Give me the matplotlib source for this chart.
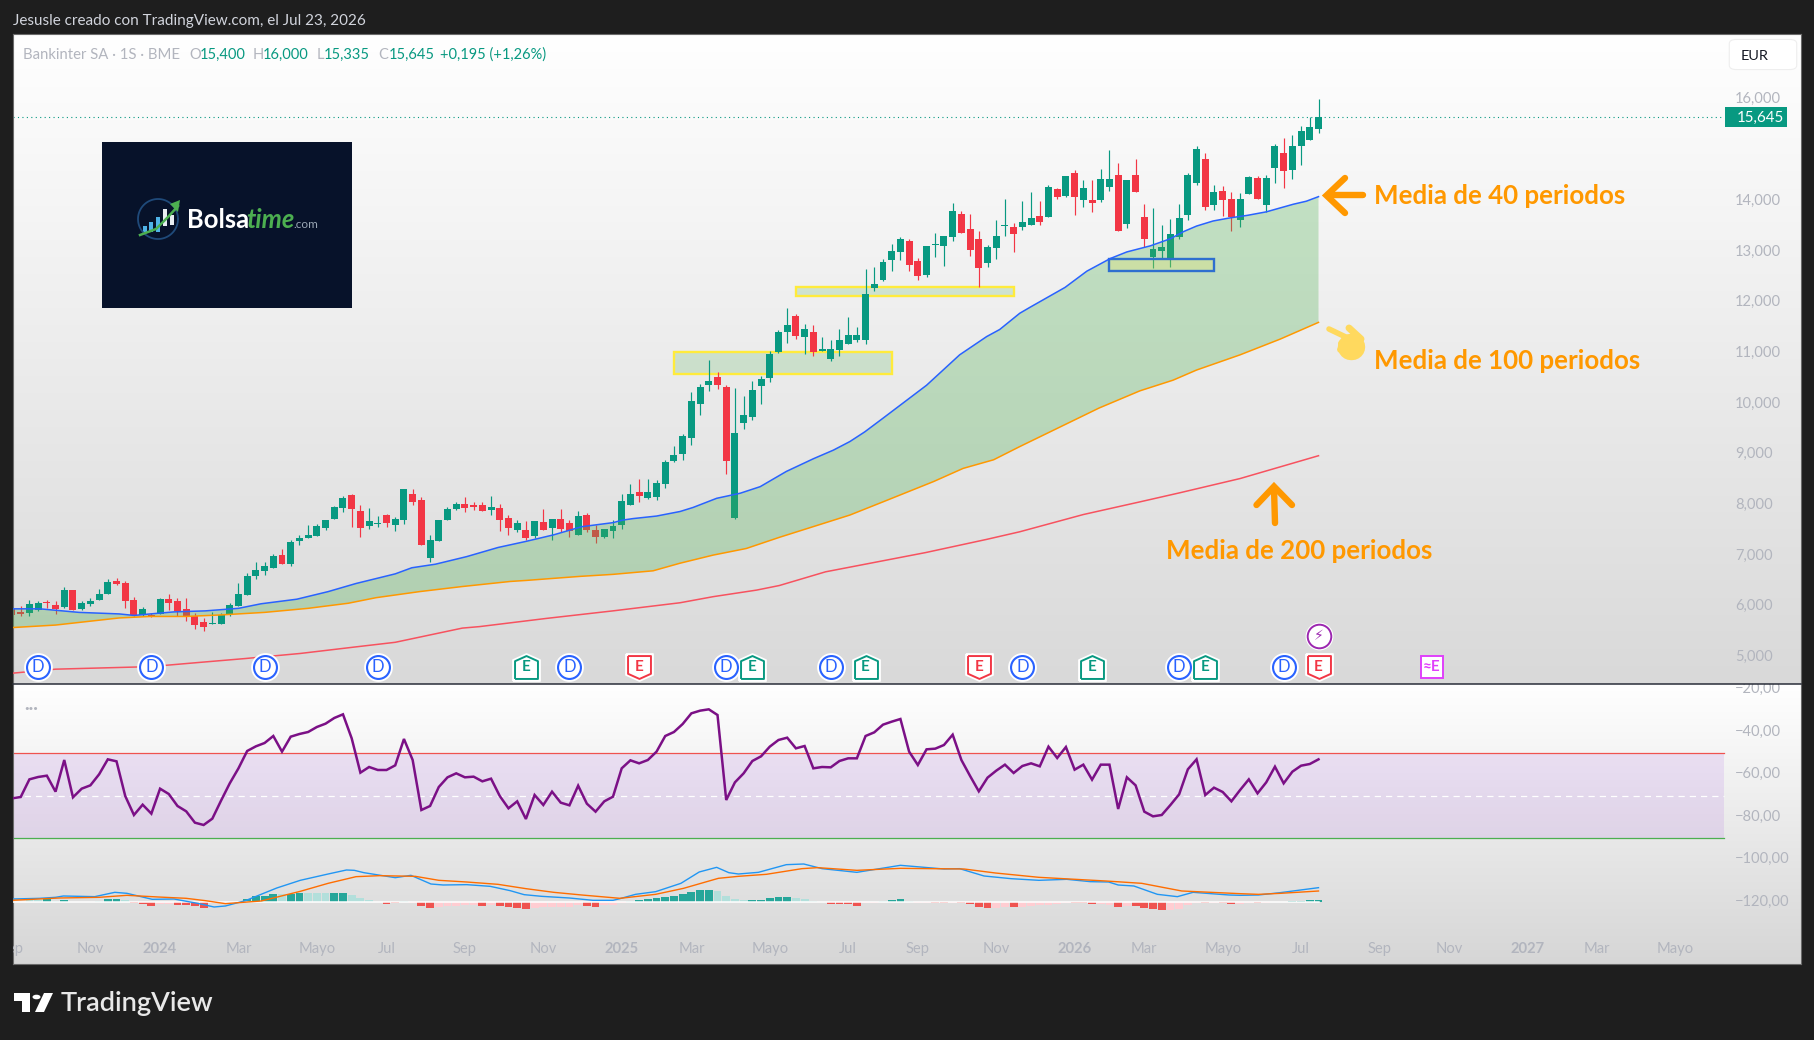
import numpy as np
import matplotlib
matplotlib.use("Agg")
import matplotlib.pyplot as plt
from matplotlib.colors import LinearSegmentedColormap
from matplotlib.lines import Line2D
from matplotlib.patches import Rectangle, Circle, Polygon, FancyBboxPatch
from matplotlib.path import Path
from matplotlib.transforms import blended_transform_factory, ScaledTranslation

plt.rcParams['font.family'] = ['Lato', 'DejaVu Sans']

# ---------- data (weekly bars, first bar is cut by the left edge) ----------
opens = [5.91,5.86,5.84,5.90,6.06,6.00,5.96,6.29,5.91,6.02,6.09,6.21,6.47,6.43,6.09,5.80,5.80,5.82,6.11,6.08,
5.92,5.78,5.66,5.63,5.62,5.82,5.98,6.19,6.57,6.67,6.73,6.98,6.81,7.26,7.32,7.36,7.52,7.69,7.91,8.17,
7.85,7.55,7.59,7.77,7.57,7.67,8.19,8.07,6.92,7.26,7.67,7.89,7.99,7.97,7.97,7.86,7.91,7.71,7.48,7.48,
7.36,7.63,7.51,7.69,7.61,7.38,7.77,7.48,7.34,7.46,7.57,7.97,8.22,8.11,8.13,8.38,8.84,8.97,9.29,9.96,
10.33,10.49,10.30,7.71,9.59,9.70,10.32,10.47,10.99,11.38,11.70,11.28,11.38,11.01,10.85,11.03,11.14,11.22,11.22,12.25,
12.41,12.80,12.96,13.18,12.78,12.50,13.10,13.08,13.25,13.71,13.41,13.21,12.74,13.04,13.47,13.45,13.45,13.49,13.67,13.65,
14.20,14.06,14.52,13.98,13.98,13.98,14.24,14.48,13.51,14.48,13.65,12.86,12.98,12.83,13.25,13.69,14.32,14.79,13.89,14.16,
14.00,13.59,14.10,14.42,13.89,14.62,14.91,14.58,15.05,15.17]
highs = [5.92,5.98,6.09,6.08,6.09,6.08,6.35,6.30,6.08,6.13,6.31,6.51,6.53,6.47,6.15,5.96,5.84,6.13,6.21,6.13,
6.13,5.84,5.74,5.86,5.84,6.04,6.43,6.63,6.84,6.84,7.00,7.10,7.28,7.38,7.57,7.59,7.68,7.95,8.15,8.19,
7.97,7.91,7.75,7.79,7.73,8.29,8.28,8.13,7.38,7.68,7.93,8.03,8.13,8.03,8.03,8.15,7.99,7.77,7.67,7.65,
7.66,7.89,7.70,7.89,7.67,7.85,7.81,7.57,7.50,7.67,8.19,8.38,8.48,8.48,8.46,8.86,9.13,9.37,10.20,10.35,
10.83,10.59,10.33,10.28,10.12,10.41,10.51,11.01,11.42,11.85,11.74,11.54,11.52,11.28,11.22,11.44,11.68,11.48,12.62,12.66,
12.82,13.12,13.25,13.21,12.84,13.08,13.33,13.28,13.93,13.77,13.71,13.37,13.10,13.59,14.00,13.53,13.96,14.14,13.96,14.28,
14.22,14.46,14.58,14.38,14.38,14.60,14.97,14.71,14.38,14.79,13.91,13.83,13.49,13.61,13.91,14.52,15.05,14.91,14.28,14.26,
14.14,14.12,14.46,14.46,14.48,15.09,15.21,15.27,15.44,15.62]
lows = [5.79,5.78,5.77,5.88,5.93,5.82,5.94,5.89,5.90,5.98,6.09,6.21,6.39,5.94,5.78,5.77,5.76,5.81,5.90,5.78,
5.68,5.52,5.48,5.62,5.62,5.78,5.97,6.19,6.51,6.59,6.72,6.80,6.77,7.18,7.31,7.35,7.48,7.69,7.83,7.53,
7.34,7.50,7.53,7.53,7.46,7.59,7.97,7.17,6.84,7.25,7.67,7.87,7.83,7.87,7.85,7.77,7.46,7.38,7.44,7.28,
7.32,7.47,7.28,7.44,7.34,7.37,7.44,7.22,7.32,7.32,7.49,7.96,8.03,8.09,8.07,8.30,8.82,8.86,9.15,9.74,
10.22,10.26,8.58,7.69,9.47,9.64,9.96,10.39,10.97,11.16,11.24,10.95,10.91,11.00,10.81,10.91,11.14,11.18,11.14,12.19,
12.39,12.58,12.80,12.58,12.41,12.47,12.86,12.68,13.18,13.33,12.88,12.27,12.66,12.82,13.27,12.96,13.39,13.49,13.49,13.64,
14.00,14.04,13.69,13.85,13.75,13.94,14.16,13.37,13.43,14.14,13.06,12.64,12.84,12.66,13.22,13.59,14.28,13.79,13.79,13.67,
13.37,13.45,14.10,14.00,13.75,14.32,14.22,14.40,14.68,15.16]
closes = [5.80,5.82,6.02,6.04,6.04,5.91,6.29,5.90,6.04,6.08,6.21,6.45,6.41,6.08,5.80,5.92,5.78,6.11,6.04,5.88,
5.78,5.60,5.56,5.64,5.80,6.00,6.21,6.57,6.69,6.77,6.96,6.81,7.24,7.32,7.38,7.55,7.67,7.93,8.11,7.89,
7.52,7.65,7.61,7.61,7.69,8.28,8.03,7.18,7.28,7.67,7.89,7.99,7.91,7.93,7.85,7.93,7.67,7.51,7.61,7.32,
7.65,7.48,7.69,7.49,7.46,7.75,7.48,7.34,7.49,7.55,8.05,8.19,8.15,8.22,8.40,8.82,8.95,9.33,10.02,10.30,
10.41,10.33,8.84,9.39,9.74,10.24,10.45,10.95,11.38,11.52,11.30,11.44,10.99,11.04,11.04,11.22,11.32,11.32,12.13,12.33,
12.76,12.98,13.21,12.70,12.49,13.08,13.12,13.27,13.77,13.33,13.00,12.64,13.06,13.27,13.49,13.31,13.55,13.63,13.55,14.24,
14.04,14.46,14.04,14.22,13.93,14.40,14.40,13.37,14.38,14.14,13.22,13.02,13.06,13.31,13.63,14.48,14.99,13.85,14.14,13.98,
13.65,14.00,14.44,14.00,14.42,15.05,14.56,15.05,15.35,15.42]
READ_OFFSET = 0.024  # values above were read against the printed axis labels, which sit just above their true level
last_bar = (15.400, 16.000, 15.335, 15.645)

ma40_bar = [-1,2.2,6.7,11.3,13,14.9,17.6,21.2,25,27.6,31.7,35.3,38.5,43,44.9,47.6,51.2,54.8,58,61.2,64.4,68,69.1,70.3,73,75.7,77.2,79.9,82.6,84.9,87.9,91,93.3,95.2,96.9,99,101,104,107.8,110.9,112.4,114.7,115.9,119.9,122.4,125.1,127,129.7,132,133.5,135,136.9,138.8,140.8,143,146.1,147.6,149]
ma40 = [5.92,5.92,5.85,5.82,5.79,5.82,5.86,5.88,5.93,6.02,6.11,6.26,6.42,6.61,6.73,6.80,6.95,7.13,7.25,7.38,7.54,7.62,7.67,7.70,7.75,7.84,7.92,8.10,8.20,8.33,8.63,8.88,9.05,9.22,9.41,9.68,9.94,10.33,10.93,11.29,11.43,11.75,11.87,12.26,12.58,12.83,12.96,13.08,13.22,13.36,13.47,13.57,13.63,13.68,13.75,13.90,13.96,14.05]
ma100_bar = [-1,4,11.3,14.9,19,23,28,33,37.6,40.8,45.8,50.7,56.2,58,64.2,68,72.6,75.7,79.5,83.3,87.1,95.2,99,104.8,108.2,111.7,114.7,123.8,128.5,132.3,135,140,144.6,149]
ma100 = [5.55,5.60,5.74,5.77,5.77,5.80,5.85,5.93,6.03,6.14,6.26,6.36,6.46,6.48,6.56,6.60,6.67,6.82,6.98,7.11,7.33,7.77,8.03,8.43,8.69,8.86,9.12,9.88,10.22,10.43,10.63,10.93,11.24,11.57]
ma200_bar = [-1,4,14.9,20.3,25.8,32.1,38.5,43,50.7,52.7,60.3,68,75.7,79.5,84.5,87.1,92.4,103.9,110.9,114.7,122,128.5,133.1,140,143.8,149]
ma200 = [4.65,4.73,4.78,4.86,4.94,5.04,5.17,5.26,5.54,5.57,5.73,5.88,6.04,6.16,6.29,6.38,6.65,7.03,7.29,7.44,7.78,8.03,8.21,8.49,8.68,8.94]

rsi = [-71.83,-71.2,-62.89,-61.79,-61.16,-68.69,-53.79,-71.35,-67.28,-65.71,-60.53,-53.47,-54.41,-70.73,-79.67,-74.81,-79.04,-67.28,-69.79,-75.43,
-77.94,-83.28,-84.37,-81.39,-72.92,-64.77,-57.71,-49.55,-47.36,-45.79,-42.49,-49.86,-42.81,-41.55,-40.61,-38.26,-36.69,-34.02,-32.3,-43.59,
-59.75,-57.08,-58.49,-58.49,-56.3,-43.9,-53.79,-77.32,-75.43,-66.49,-61.94,-60.06,-61.94,-61.63,-63.83,-62.57,-70.73,-76.53,-73.24,-81.55,
-70.26,-74.96,-68.69,-73.86,-75.12,-65.87,-74.34,-78.1,-73.24,-71.04,
-57.71,-53.94,-55.36,-53.79,-49.86,-42.49,-40.61,-36.85,-31.83,-30.57,-29.94,-32.61,-72.61,-64.3,-60.06,-54.26,-52.06,-47.51,-44.37,-43.28,
-48.3,-47.2,-57.71,-57.08,-57.24,-54.26,-53.0,-53.0,-42.49,-40.77,-37.16,-35.75,-34.49,-49.86,-56.14,-48.77,-48.45,-46.73,-41.87,-53.79,
-61.32,-68.53,-62.1,-58.81,-55.98,-59.9,-56.61,-55.36,-56.77,-47.51,-52.85,-47.67,-58.34,-55.98,-63.04,-55.98,-55.98,-76.84,-61.94,-65.71,
-78.1,-80.3,-79.67,-74.96,-69.94,-58.18,-53.47,-70.26,-66.81,-68.84,-73.24,-67.9,
-62.89,-69.48,-64.3,-56.93,-64.77,-59.28,-56.46,-55.67,-53.48]

macd_bar = [-1,2.2,4,4.9,8.5,10.8,12.2,15.1,17.6,20.3,22.2,23.5,25.8,29.4,32.1,35.3,37.4,38.3,39.4,43,44.8,47.1,48.5,51.2,53.9,56.2,57.8,59.8,63,65.7,68,
68.8,70.6,72.9,75.8,77.9,79.9,81.3,82.4,84.7,87.9,89.9,92,96,101,106,107.8,110.6,113.7,116.9,120.1,122.8,124.9,126,127.8,130.5,132.8,134.6,138.7,140,142.1,144.6,149]
macd = [-119.2,-118.88,-118.41,-117.79,-118.1,-116.06,-116.53,-119.35,-119.2,-121.24,-122.96,-122.49,-119.98,-114.02,-110.41,-107.43,-105.55,-105.71,-106.81,-109.16,-108.06,-112.14,-112.61,-112.45,-113.24,-115.28,-117.16,-117.94,-118.73,-119.82,-119.82,
-119.04,-117.0,-115.75,-111.82,-106.49,-104.3,-106.81,-107.43,-106.65,-103.04,-102.73,-104.92,-106.65,-103.35,-105.08,-104.92,-108.37,-109.63,-110.41,-109.94,-111.04,-111.2,-112.61,-113.08,-117.0,-118.1,-116.06,-117.31,-117.47,-117.32,-116.22,-113.87]
signal_bar = [-1,4.4,9,12.2,15.8,19,21.2,23.5,27.6,32.1,35.3,38.5,41.2,45.3,48,51.2,54.8,58,61.2,64.4,68.8,72.9,76.1,80.1,82.4,85.6,89.7,91.5,96,101,108.3,111.9,116.9,124.6,128.7,133.3,140,142.1,144.6,149]
signal = [-119.82,-118.73,-118.41,-117.47,-118.26,-118.88,-119.98,-121.39,-120.14,-115.59,-111.82,-108.69,-108.22,-108.53,-110.41,-111.2,-112.3,-114.33,-116.06,-117.31,-118.88,-117.0,-114.18,-109.47,-108.53,-107.59,-104.92,-104.45,-105.71,-104.77,-105.08,-106.96,-109.0,-110.73,-111.82,-115.43,-116.69,-117.01,-116.54,-115.44]
MACD_ZERO = -120.7
hist = [.16,1.1,1.1,1.41,.47,1.1,.31,.31,.31,.78,1.41,1.41,.94,-.47,-.94,-1.73,-.94,-.94,-1.1,-1.41,
-1.88,-2.51,-.47,-.16,.16,.16,1.57,2.82,3.14,3.76,3.92,4.08,4.24,4.39,4.39,4.39,4.39,4.39,3.45,1.88,
1.26,.31,-.63,-.47,.47,-.31,-1.73,-2.67,-2.35,-1.88,-1.57,-1.26,-1.26,-1.73,-1.41,-1.73,-2.2,-2.67,-3.14,-2.67,
-2.35,-2.2,-2.04,-2.04,-1.26,-1.73,-2.04,-1.41,-1.41,-.16,.78,1.26,1.73,2.2,2.67,3.14,3.92,4.71,5.65,5.8,
5.33,2.82,1.41,1.1,.94,1.26,1.88,2.67,2.67,2.2,1.57,.78,.31,-.63,-.94,-.94,-1.57,-.16,-.16,.47,
.94,1.41,.63,-.31,-.47,-.47,-.47,-.16,-.47,-.94,-2.2,-2.67,-2.51,-2.2,-2.35,-2.2,-1.73,-1.41,-1.1,-.78,
-.16,-.47,-.47,-.94,-.94,-1.26,-2.2,-1.57,-1.73,-2.51,-3.14,-3.61,-3.45,-3.14,-1.26,-.47,-.47,-.16,-.47,-.94,
-.63,-.47,-.47,-.31,.31,.31,.78,.78,1.26,1.26]
hist_shade = ("WWWSWSWWWW" "SSWSSSWWSS" "SSWWWWSSSS" "WSSWWWSSWW" "WWSSWWSSWW" "WWWSWSSSSW" "WWWWWSSWWW"
              "WSSSSSSSSS" "WWWWSSSSSW" "WWWSSSSWWW" "SSWWWSSWSS" "SSWWSWWWWW" "WSSSWWSWSS" "SSWWWWSWSS" "WWSWWWSSSS")

price_ticks = [16, 14, 13, 12, 11, 10, 9, 8, 7, 6, 5]
price_labels = ['16,000', '14,000', '13,000', '12,000', '11,000', '10,000', '9,000', '8,000', '7,000', '6,000', '5,000']
lower_ticks = [-20, -40, -60, -80, -100, -120]
lower_labels = ['\u221220,00', '\u221240,00', '\u221260,00', '\u221280,00', '\u2212100,00', '\u2212120,00']
month_bars = [-1, 8, 16, 25, 34, 42, 51, 60, 69, 77, 86, 95, 103, 112, 121, 129, 138, 147, 156, 164, 173, 181, 190]
month_labels = ['Sep', 'Nov', '2024', 'Mar', 'Mayo', 'Jul', 'Sep', 'Nov', '2025', 'Mar', 'Mayo', 'Jul', 'Sep', 'Nov', '2026', 'Mar', 'Mayo', 'Jul', 'Sep', 'Nov', '2027', 'Mar', 'Mayo']
dividend_bars = [2, 15, 28, 41, 63, 81, 93, 115, 133, 145]
earn_up_bars = [58, 84, 97, 123, 136]
earn_down_bars = [71, 110, 149]
earn_next_bar = 162
news_bar = 149
zones = [(75, 100, 10.55, 10.99), (89, 114, 12.09, 12.27)]
blue_zone = (125, 137, 12.58, 12.82)

# ---------- layout ----------
W, H = 1814, 1040
L, R, T, SEP, B = 13, 1801, 34, 684, 964
BAR_PX = 8.71
BAND_END = 149 + (1724 - 1318.5) / BAR_PX
GREEN, RED = '#089981', '#F23645'
AXIS_TXT = '#b2b5be'
ORANGE = '#FF9800'

fig = plt.figure(figsize=(W / 100, H / 100), dpi=100, facecolor='#1e1e1e')
def fx(x): return x / W
def fy(y): return 1 - y / H

ax2 = fig.add_axes([fx(L), fy(B), (R - L) / W, (B - SEP) / H], zorder=1)
ax = fig.add_axes([fx(L), fy(SEP), (R - L) / W, (SEP - T) / H], zorder=2)

xlim = (149 - (1318.5 - L) / BAR_PX, 149 + (R - 1318.5) / BAR_PX)
ylim_main = (16 - (SEP - 99) / 50.7, 16 - (T - 99) / 50.7)
ylim_low = (-40 - (B - 730.7) / 2.125, -40 - (SEP - 730.7) / 2.125)

cm1 = LinearSegmentedColormap.from_list('a', ['#ffffff', '#d9d9d9'])
cm2 = LinearSegmentedColormap.from_list('b', ['#ffffff', '#d6d6d6'])
grad = np.linspace(0, 1, 256).reshape(-1, 1)
ax.imshow(grad, extent=[0, 1, 0, 1], transform=ax.transAxes, aspect='auto', cmap=cm1, origin='upper', zorder=0)
ax2.imshow(grad, extent=[0, 1, 0, 1], transform=ax2.transAxes, aspect='auto', cmap=cm2, origin='upper', zorder=0)

# ---------- candles ----------
o = np.array(opens) + READ_OFFSET
h = np.array(highs) + READ_OFFSET
l = np.array(lows) + READ_OFFSET
c = np.array(closes) + READ_OFFSET
o = np.append(o, last_bar[0]); h = np.append(h, last_bar[1]); l = np.append(l, last_bar[2]); c = np.append(c, last_bar[3])
xb = np.arange(-1, len(o) - 1)
col = [GREEN if cc >= oo else RED for oo, cc in zip(o, c)]
ax.vlines(xb, l, h, colors=col, linewidth=0.85, zorder=2)
ax.bar(xb, np.abs(c - o), bottom=np.minimum(o, c), width=0.8, color=col, linewidth=0, zorder=2.1)

# zones
for x0, x1, y0, y1 in zones:
    ax.add_patch(Rectangle((x0, y0 + READ_OFFSET), x1 - x0, y1 - y0, facecolor=(0.30, 0.69, 0.31, 0.2),
                           edgecolor='#FFEB3B', linewidth=1.7, zorder=1.5))
x0, x1, y0, y1 = blue_zone
ax.add_patch(Rectangle((x0, y0 + READ_OFFSET), x1 - x0, y1 - y0, facecolor=(1.0, 0.92, 0.23, 0.2),
                       edgecolor='#2E6FCF', linewidth=1.7, zorder=3.5))

# moving averages + fill
x40, y40 = np.array(ma40_bar), np.array(ma40) + READ_OFFSET
x100, y100 = np.array(ma100_bar), np.array(ma100) + READ_OFFSET
x200, y200 = np.array(ma200_bar), np.array(ma200) + READ_OFFSET
ax.fill(np.r_[x40, x100[::-1]], np.r_[y40, y100[::-1]], facecolor=(0.30, 0.69, 0.31, 0.3), edgecolor='none', zorder=3)
ax.plot(x40, y40, color='#2962FF', lw=1.1, zorder=4)
ax.plot(x100, y100, color=ORANGE, lw=1.1, zorder=4)
ax.plot(x200, y200, color='#F7525F', lw=1.1, zorder=4)

# last price line
ax.plot([xlim[0], 149 + (1722 - 1318.5) / BAR_PX], [last_bar[3]] * 2, color=GREEN, lw=0.8,
        dashes=(1, 3), zorder=1.8)

# event markers
ev_y, news_y = 16 - (667 - 99) / 50.7, 16 - (636 - 99) / 50.7
for xv in dividend_bars:
    ax.plot([xv], [ev_y], marker='o', ms=19.5, mfc='white', mec='white', mew=1.2, zorder=6)
    ax.plot([xv], [ev_y], marker='o', ms=16.5, mfc='white', mec='#2962FF', mew=1.5, zorder=6.1)
    ax.text(xv, ev_y, 'D', color='#2962FF', fontsize=12, ha='center', va='center', zorder=6.2)
up = Path([(-1, -1), (1, -1), (1, .55), (0, 1), (-1, .55), (-1, -1)])
down = Path([(-1, 1), (1, 1), (1, -.55), (0, -1), (-1, -.55), (-1, 1)])
for xv in earn_up_bars:
    ax.plot([xv], [ev_y], marker=up, ms=19.5, mfc='white', mec='white', mew=1.2, zorder=6)
    ax.plot([xv], [ev_y], marker=up, ms=16.5, mfc='white', mec=GREEN, mew=1.4, zorder=6.1)
    ax.text(xv, ev_y, 'E', color=GREEN, fontsize=11, fontweight='bold', ha='center', va='center', zorder=6.2)
for xv in earn_down_bars:
    ax.plot([xv], [ev_y], marker=down, ms=19.5, mfc='white', mec='white', mew=1.2, zorder=6)
    ax.plot([xv], [ev_y], marker=down, ms=16.5, mfc='white', mec=RED, mew=1.4, zorder=6.1)
    ax.text(xv, ev_y, 'E', color=RED, fontsize=11, fontweight='bold', ha='center', va='center', zorder=6.2)
ax.plot([earn_next_bar], [ev_y], marker='s', ms=16, mfc='white', mec='#E040FB', mew=1.4, zorder=6)
ax.text(earn_next_bar, ev_y, '\u2248E', color='#E040FB', fontsize=11, fontweight='bold', ha='center', va='center', zorder=6.2)
ax.plot([news_bar], [news_y], marker='o', ms=19, mfc='white', mec='white', mew=1, zorder=6)
ax.plot([news_bar], [news_y], marker='o', ms=17, mfc='white', mec='#9C27B0', mew=1.4, zorder=6.1)
ax.text(news_bar, news_y, '\u26A1', color='#9C27B0', fontsize=10, family='DejaVu Sans', ha='center', va='center', zorder=6.2)

ax.set_xlim(*xlim); ax.set_ylim(*ylim_main)
ax.set_xticks([])
ax.yaxis.tick_right()
ax.set_yticks(price_ticks)
ax.set_yticklabels(price_labels)
ax.tick_params(axis='y', length=0, pad=-47.5, labelcolor=AXIS_TXT, labelsize=10.6)

# ---------- lower pane ----------
band_top, band_mid, band_bot = -50.64, -70.64, -90.64
ax2.fill_between([xlim[0], BAND_END], band_bot, band_top, color='#8E24E0', alpha=0.105, linewidth=0, zorder=1)
ax2.plot([xlim[0], BAND_END], [band_top] * 2, color='#EF5350', lw=0.9, zorder=2)
ax2.plot([xlim[0], BAND_END], [band_bot] * 2, color='#4CAF50', lw=0.9, zorder=2)
ax2.plot([xlim[0], BAND_END], [band_mid] * 2, color='white', lw=0.9, dashes=(5, 4), zorder=2)
xr = np.arange(-1, len(rsi) - 1)
ax2.plot(xr, rsi, color='#7B1086', lw=1.8, solid_joinstyle='miter', zorder=5)

xh = np.arange(len(hist))
hv = np.array(hist)
hcol = []
for v, s in zip(hv, hist_shade):
    if v >= 0:
        hcol.append('#26A69A' if s == 'S' else '#B2DFDB')
    else:
        hcol.append('#EF5350' if s == 'S' else '#FFCDD2')
ax2.bar(xh, hv, bottom=MACD_ZERO, width=0.9, color=hcol, linewidth=0, zorder=2.5)
ax2.plot([-1, 149], [MACD_ZERO] * 2, color='white', lw=1.1, zorder=2.6)
ax2.plot(macd_bar, macd, color='#2196F3', lw=1.0, zorder=3)
ax2.plot(signal_bar, signal, color='#FF6D00', lw=1.0, zorder=3.1)

ax2.set_xlim(*xlim); ax2.set_ylim(*ylim_low)
ax2.set_xticks([])
ax2.yaxis.tick_right()
ax2.set_yticks(lower_ticks)
ax2.set_yticklabels(lower_labels)
ax2.tick_params(axis='y', length=0, pad=-47.5, labelcolor=AXIS_TXT, labelsize=10.6)

# printed scale labels sit slightly above their true value
for a, shift_px in ((ax, 1.2), (ax2, 0.6)):
    for lbl in a.get_yticklabels():
        lbl.set_transform(lbl.get_transform() + ScaledTranslation(0, shift_px / 100, fig.dpi_scale_trans))

tr = blended_transform_factory(ax2.transData, ax2.transAxes)
label_y = (B - 949) / (B - SEP)
for xv, t in zip(month_bars, month_labels):
    ax2.text(xv, label_y, t, transform=tr, ha='center', va='center', color=AXIS_TXT, fontsize=10.6,
             fontweight='bold' if t.isdigit() else 'normal', clip_on=True, zorder=7)

for a in (ax, ax2):
    for s in a.spines.values():
        s.set_color('#6a6a6a'); s.set_linewidth(0.8)
ax.spines['bottom'].set_color('#2a2e39'); ax.spines['bottom'].set_linewidth(1.1)
ax2.spines['top'].set_visible(False)

# ---------- figure-level items (pixel placed) ----------
def ftext(x, y, s, **kw):
    kw.setdefault('zorder', 10)
    kw.setdefault('va', 'baseline')
    return fig.text(fx(x), fy(y), s, **kw)
def fline(pts, color, lw, **kw):
    fig.add_artist(Line2D([fx(p[0]) for p in pts], [fy(p[1]) for p in pts], color=color, lw=lw,
                          transform=fig.transFigure, zorder=10, **kw))
def frect(x0, y0, x1, y1, **kw):
    fig.add_artist(Rectangle((fx(x0), fy(y1)), (x1 - x0) / W, (y1 - y0) / H, transform=fig.transFigure, zorder=9, **kw))
def fpoly(pts, **kw):
    fig.add_artist(Polygon([(fx(a), fy(b)) for a, b in pts], closed=True, transform=fig.transFigure, zorder=10, **kw))

ftext(13, 25, 'Jesusle creado con TradingView.com, el Jul 23, 2026', color='#d1d4dc', fontsize=11)

LEG = 10.5
ftext(23.3, 59, 'Bankinter SA \u00b7 1S \u00b7 BME', color=AXIS_TXT, fontsize=10.7)
for lx, lab, vx, val in [(189, 'O', 200, '15,400'), (252.3, 'H', 263, '16,000'), (316.7, 'L', 324.2, '15,335'), (378.4, 'C', 388.3, '15,645')]:
    ftext(lx, 59, lab, color=AXIS_TXT, fontsize=LEG)
    ftext(vx, 59, val, color=GREEN, fontsize=LEG)
ftext(440.5, 59, '+0,195 (+1,26%)', color=GREEN, fontsize=LEG)

# EUR box
fig.add_artist(FancyBboxPatch((fx(1732), fy(68)), (1794 - 1732) / W, (68 - 41) / H, boxstyle='round,pad=0.0015,rounding_size=0.004',
                              transform=fig.transFigure, facecolor='white', edgecolor='#eeeeee', lw=0.8, zorder=9))
ftext(1740.5, 60, 'EUR', color='#131722', fontsize=10.4)

# price tag
frect(1725, 107, 1787, 127, facecolor=GREEN, edgecolor='none')
ftext(1736.4, 122, '15,645', color='white', fontsize=10.9)

# annotations
for s, x, y in [('Media de 40 periodos', 1374.3, 203.7), ('Media de 100 periodos', 1374.3, 368.7), ('Media de 200 periodos', 1165.7, 559.3)]:
    ftext(x, y, s, color=ORANGE, fontsize=18.6, fontweight='bold')
lw_arrow = 4.6
fline([(1363.3, 195), (1328, 195)], ORANGE, lw_arrow, solid_capstyle='round')
fline([(1345, 178), (1326.5, 195.5), (1345, 213)], ORANGE, lw_arrow, solid_capstyle='round', solid_joinstyle='miter')
fline([(1275, 523), (1274, 488)], ORANGE, lw_arrow, solid_capstyle='round')
fline([(1256.5, 505), (1274, 486.5), (1292, 505)], ORANGE, lw_arrow, solid_capstyle='round', solid_joinstyle='miter')
# pointing hand
HAND = '#FFD95E'
fline([(1329, 329), (1352, 340)], HAND, 4.0, solid_capstyle='round')
fline([(1349, 328), (1361, 339)], HAND, 5.0, solid_capstyle='round')
fline([(1351, 347), (1352, 347)], HAND, 19, solid_capstyle='round')
fline([(1341, 343), (1342, 343)], HAND, 5.0, solid_capstyle='round')
fline([(1340, 349), (1341, 349)], HAND, 5.0, solid_capstyle='round')

# logo
frect(102, 142, 352, 307.7, facecolor='#07122A', edgecolor='none')
th = np.linspace(0, 2 * np.pi, 80)
fline([(158 + 20 * np.cos(t), 219 + 20 * np.sin(t)) for t in th], '#1F4A7A', 1.3)
for bx, by, bh, cc in [(143, 229, 6, '#4FB3E8'), (149, 225, 10, '#4FB3E8'), (156, 220, 15, '#4FB3E8'), (163, 212, 17, '#E8EEF2'), (170, 218, 10, '#E8EEF2')]:
    frect(bx, by - 3, bx + 4, by + bh - 3, facecolor=cc, edgecolor='none')
fline([(140, 235), (156, 229), (168, 217), (178, 206)], '#4CAF50', 1.8)
fpoly([(180, 200), (170, 204), (178, 212)], facecolor='#4CAF50', edgecolor='none')
ftext(186.7, 228.3, 'Bolsa', color='white', fontsize=18.4, fontweight='bold')
ftext(246, 228.3, 'time', color='#4CAF50', fontsize=18.4, fontweight='bold', fontstyle='italic')
ftext(293.5, 228.3, '.com', color='#9aa7b5', fontsize=8.5)

# ... mark
ftext(31, 708.5, '\u00b7\u00b7\u00b7', color=AXIS_TXT, fontsize=12, ha='center', va='center', fontweight='bold')

# TradingView logo
X0, Y0 = 14, 993
fpoly([(X0, Y0), (X0 + 16, Y0), (X0 + 16, Y0 + 19), (X0 + 8, Y0 + 19), (X0 + 8, Y0 + 8), (X0, Y0 + 8)], facecolor='white', edgecolor='none')
fig.add_artist(Circle((fx(X0 + 22.5), fy(Y0 + 4)), 4 / W, transform=fig.transFigure, facecolor='white', edgecolor='none', zorder=10))
fpoly([(X0 + 30, Y0), (X0 + 39, Y0), (X0 + 30, Y0 + 19), (X0 + 21, Y0 + 19)], facecolor='white', edgecolor='none')
ftext(61, 1011, 'TradingView', color='#e8e8e8', fontsize=19.6, fontweight='semibold')

fig.savefig('out.png', dpi=100, facecolor=fig.get_facecolor())
